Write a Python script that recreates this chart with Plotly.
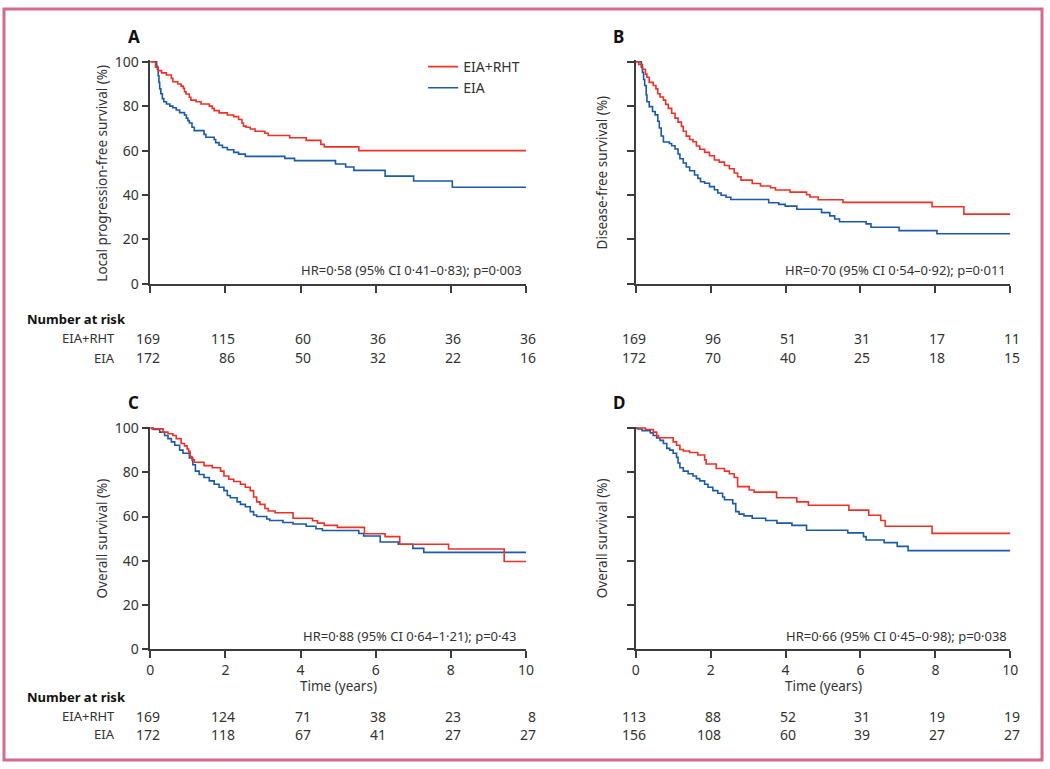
import plotly.graph_objects as go

# ---------------- DATA ----------------
# Panel A: Local progression-free survival
A_rht_t = [0, 0.14, 0.21, 0.30, 0.43, 0.56, 0.60, 0.73, 0.82, 0.88, 0.91, 0.95, 1.04, 1.08, 1.22, 1.35,
           1.57, 1.65, 1.70, 1.83, 2.05, 2.22, 2.35, 2.44, 2.48, 2.55, 2.66, 2.79, 3.05, 3.14, 3.71,
           4.15, 4.54, 4.63, 5.55, 10]
A_rht_s = [100, 97.5, 96.0, 95.0, 94.0, 92.5, 91.0, 90.0, 89.0, 88.0, 86.5, 85.5, 84.0, 82.7, 82.0, 81.0,
           80.0, 79.0, 78.0, 77.0, 76.0, 75.3, 74.0, 72.4, 71.0, 70.5, 69.7, 68.7, 67.8, 66.8, 65.8,
           64.6, 62.8, 61.7, 60.0, 60.0]
A_eia_t = [0, 0.17, 0.19, 0.21, 0.23, 0.25, 0.28, 0.32, 0.36, 0.43, 0.52, 0.60, 0.69, 0.78, 0.91, 0.96,
           1.00, 1.04, 1.11, 1.17, 1.43, 1.48, 1.70, 1.74, 1.83, 1.92, 2.05, 2.22, 2.35, 2.53, 3.58,
           3.84, 4.93, 5.20, 5.42, 6.25, 7.01, 8.04, 10]
A_eia_s = [100, 98.0, 96.6, 93.7, 90.7, 87.8, 85.6, 83.4, 82.0, 81.0, 80.0, 79.3, 78.3, 77.1, 76.0, 74.6,
           73.5, 72.4, 70.5, 69.0, 67.3, 66.0, 65.0, 63.6, 62.4, 61.4, 60.4, 59.2, 58.4, 57.4, 56.5,
           55.5, 54.0, 52.6, 51.1, 48.5, 46.3, 43.5, 43.5]

# Panel B: Disease-free survival
B_rht_t = [0, 0.08, 0.18, 0.26, 0.30, 0.36, 0.47, 0.54, 0.59, 0.65, 0.74, 0.80, 0.87, 0.96, 1.05, 1.13,
           1.22, 1.27, 1.35, 1.44, 1.53, 1.62, 1.71, 1.84, 1.97, 2.10, 2.23, 2.37, 2.50, 2.63, 2.72,
           2.81, 3.11, 3.33, 3.60, 3.73, 4.12, 4.56, 4.65, 4.87, 5.53, 7.91, 8.76, 10]
B_rht_s = [100, 98.8, 96.6, 94.4, 93.0, 90.7, 89.3, 87.8, 85.6, 84.1, 82.7, 80.8, 79.0, 76.8, 74.6, 72.8,
           70.9, 68.7, 66.5, 65.0, 64.0, 62.1, 60.6, 59.2, 57.7, 55.8, 54.8, 53.3, 51.8, 49.9, 48.2,
           46.7, 45.2, 44.1, 43.3, 42.3, 41.3, 40.1, 39.1, 37.9, 36.7, 34.7, 31.4, 31.4]
B_eia_t = [0, 0.15, 0.18, 0.21, 0.24, 0.28, 0.30, 0.36, 0.45, 0.52, 0.59, 0.63, 0.68, 0.74, 0.90, 0.96,
           1.05, 1.13, 1.18, 1.27, 1.35, 1.44, 1.57, 1.66, 1.73, 1.84, 1.97, 2.10, 2.19, 2.28, 2.41,
           2.54, 3.55, 3.82, 3.99, 4.30, 4.96, 5.18, 5.31, 5.44, 6.15, 6.28, 7.03, 8.04, 10]
B_eia_s = [100, 97.5, 95.2, 92.0, 89.3, 85.0, 82.0, 79.8, 77.6, 76.1, 73.2, 70.2, 66.6, 63.9, 63.2, 62.2,
           60.7, 58.5, 56.3, 54.4, 52.6, 50.9, 49.0, 47.5, 46.0, 45.3, 43.8, 42.4, 40.9, 39.9, 39.0,
           38.0, 36.5, 35.8, 35.0, 33.6, 32.1, 30.6, 29.2, 28.0, 27.0, 25.5, 24.0, 22.6, 22.6]

# Panel C: Overall survival
C_rht_t = [0, 0.05, 0.34, 0.47, 0.60, 0.69, 0.82, 0.91, 0.98, 1.02, 1.06, 1.11, 1.17, 1.43, 1.65, 1.87,
           1.96, 2.09, 2.22, 2.40, 2.53, 2.66, 2.75, 2.83, 2.92, 3.05, 3.14, 3.32, 3.80, 4.32, 4.45,
           4.63, 4.98, 5.70, 6.25, 6.64, 7.94, 9.42, 10]
C_rht_s = [100, 99.6, 98.1, 97.4, 96.6, 95.2, 93.0, 91.9, 90.5, 89.3, 87.1, 85.6, 84.5, 83.0, 82.0, 80.5,
           78.3, 76.8, 75.8, 74.6, 73.2, 71.7, 68.8, 66.6, 65.5, 63.6, 62.5, 61.7, 59.2, 58.1, 57.0,
           56.0, 55.1, 52.2, 50.9, 47.5, 45.3, 39.7, 39.7]
C_eia_t = [0, 0.08, 0.25, 0.38, 0.47, 0.56, 0.65, 0.78, 0.87, 1.04, 1.13, 1.20, 1.30, 1.43, 1.57, 1.70,
           1.83, 1.96, 2.05, 2.13, 2.31, 2.40, 2.53, 2.66, 2.75, 2.83, 3.10, 3.18, 3.53, 3.80, 4.15,
           4.41, 4.58, 5.55, 5.68, 6.12, 6.60, 6.99, 7.28, 10]
C_eia_s = [100, 99.3, 98.1, 96.6, 95.2, 93.7, 92.2, 90.0, 88.6, 86.4, 83.4, 80.5, 79.0, 77.6, 76.1, 74.6,
           73.2, 71.7, 69.5, 68.5, 66.6, 65.5, 64.4, 62.2, 60.7, 60.0, 58.9, 58.2, 57.3, 56.6, 55.6,
           54.5, 53.7, 52.3, 51.2, 48.5, 47.5, 45.6, 43.8, 43.8]

# Panel D: Overall survival (subgroup)
D_rht_t = [0, 0.26, 0.47, 0.56, 0.61, 1.00, 1.09, 1.18, 1.27, 1.44, 1.66, 1.84, 1.88, 2.15, 2.37, 2.50,
           2.63, 2.72, 3.03, 3.16, 3.76, 4.30, 4.61, 5.69, 6.22, 6.54, 6.66, 7.91, 10]
D_rht_s = [100, 99.3, 98.1, 96.6, 95.6, 93.7, 92.2, 90.3, 89.6, 88.9, 87.8, 85.6, 83.7, 81.7, 80.5, 79.3,
           77.6, 73.5, 72.0, 71.0, 68.5, 66.6, 65.1, 62.9, 60.6, 58.2, 55.6, 52.4, 52.4]
D_eia_t = [0, 0.05, 0.17, 0.39, 0.47, 0.56, 0.65, 0.74, 0.83, 0.91, 1.00, 1.09, 1.13, 1.18, 1.27, 1.40,
           1.53, 1.62, 1.71, 1.84, 1.93, 2.06, 2.19, 2.32, 2.37, 2.59, 2.67, 2.76, 2.89, 3.11, 3.47,
           3.77, 4.17, 4.56, 5.66, 6.08, 6.15, 6.63, 6.98, 7.27, 10]
D_eia_s = [100, 99.5, 98.8, 97.8, 96.6, 95.5, 94.4, 93.0, 90.8, 90.0, 88.6, 86.7, 84.2, 82.0, 80.5, 79.3,
           78.3, 77.1, 76.1, 74.6, 73.2, 71.7, 70.5, 68.8, 67.6, 65.8, 62.2, 61.1, 60.3, 59.2, 58.2,
           57.0, 56.0, 53.8, 52.6, 50.9, 49.4, 48.2, 46.5, 44.6, 44.6]

# Number at risk
risk_times = [0, 2, 4, 6, 8, 10]
A_risk_rht = [169, 115, 60, 36, 36, 36]
A_risk_eia = [172, 86, 50, 32, 22, 16]
B_risk_rht = [169, 96, 51, 31, 17, 11]
B_risk_eia = [172, 70, 40, 25, 18, 15]
C_risk_rht = [169, 124, 71, 38, 23, 8]
C_risk_eia = [172, 118, 67, 41, 27, 27]
D_risk_rht = [113, 88, 52, 31, 19, 19]
D_risk_eia = [156, 108, 60, 39, 27, 27]

series_names = ["EIA+RHT", "EIA"]
panel_letters = ["A", "B", "C", "D"]
y_titles = ["Local progression-free survival (%)", "Disease-free survival (%)",
            "Overall survival (%)", "Overall survival (%)"]
hr_texts = ["HR=0·58 (95% CI 0·41–0·83); p=0·003",
            "HR=0·70 (95% CI 0·54–0·92); p=0·011",
            "HR=0·88 (95% CI 0·64–1·21); p=0·43",
            "HR=0·66 (95% CI 0·45–0·98); p=0·038"]
x_ticks = [0, 2, 4, 6, 8, 10]
y_ticks = [0, 20, 40, 60, 80, 100]

# ---------------- LAYOUT HELPERS ----------------
W, H = 1050, 769
RED = "#ee3026"
BLUE = "#1a5aa6"
AX = "#3c3c3c"
TXT = "#333333"
FONT = "Noto Sans"


def px_x(p):
    return p / W


def px_y(p):
    return 1 - p / H


# pixel geometry of the 4 panels: (x0, x10, y0(value 0), y100)
geom = [
    (148, 528, 281.5, 54),
    (639, 1018, 281.5, 54),
    (148, 528, 655.7, 429),
    (639, 1018, 655.7, 429),
]
YMAX = 100.6

fig = go.Figure()

curves = [
    (A_rht_t, A_rht_s, A_eia_t, A_eia_s),
    (B_rht_t, B_rht_s, B_eia_t, B_eia_s),
    (C_rht_t, C_rht_s, C_eia_t, C_eia_s),
    (D_rht_t, D_rht_s, D_eia_t, D_eia_s),
]
risks = [(A_risk_rht, A_risk_eia), (B_risk_rht, B_risk_eia),
         (C_risk_rht, C_risk_eia), (D_risk_rht, D_risk_eia)]

annotations = []
layout_axes = {}

for i, (g, cv) in enumerate(zip(geom, curves)):
    n = "" if i == 0 else str(i + 1)
    xa, ya = "x" + n, "y" + n
    x0, x10, y0, y100 = g
    per = (y0 - y100) / 100.0
    ytop = y0 - per * YMAX
    layout_axes["xaxis" + n] = dict(
        domain=[px_x(x0), px_x(x10)], anchor=ya, range=[0, 10],
        tickvals=x_ticks, showticklabels=(i >= 2), ticks="outside", ticklen=7,
        tickwidth=1.5, tickcolor=AX, showline=True, linecolor=AX, linewidth=1.5,
        showgrid=False, zeroline=False, fixedrange=True,
        tickfont=dict(family=FONT, size=14, color=TXT),
    )
    layout_axes["yaxis" + n] = dict(
        domain=[px_y(y0), px_y(ytop)], anchor=xa, range=[0, YMAX],
        tickvals=y_ticks, showticklabels=(i in (0, 2)), ticks="outside", ticklen=7,
        tickwidth=1.5, tickcolor=AX, showline=True, linecolor=AX, linewidth=1.5,
        showgrid=False, zeroline=False, fixedrange=True,
        tickfont=dict(family=FONT, size=14, color=TXT),
    )
    rt, rs, et, es = cv
    # EIA drawn first, EIA+RHT on top
    fig.add_trace(go.Scatter(x=et, y=es, mode="lines", line=dict(color=BLUE, width=1.6, shape="hv"),
                             name=series_names[1], showlegend=False, xaxis=xa, yaxis=ya))
    fig.add_trace(go.Scatter(x=rt, y=rs, mode="lines", line=dict(color=RED, width=1.6, shape="hv"),
                             name=series_names[0], showlegend=False, xaxis=xa, yaxis=ya))

    # panel letter
    annotations.append(dict(text="<b>%s</b>" % panel_letters[i], xref="paper", yref="paper",
                            x=px_x(x0 - 17), y=px_y(y100 - 26), xanchor="center", yanchor="middle",
                            showarrow=False, font=dict(family=FONT, size=17, color="#111111")))
    # y-axis title
    ytx = 99 if i in (0, 2) else 604.5
    annotations.append(dict(text=y_titles[i], xref="paper", yref="paper", textangle=-90,
                            x=px_x(ytx), y=px_y((y0 + y100) / 2), xanchor="center", yanchor="middle",
                            showarrow=False, font=dict(family=FONT, size=13.5, color=TXT)))
    # HR text
    hr_right = [526, 1016, 520, 1017][i]
    annotations.append(dict(text=hr_texts[i], xref="paper", yref="paper",
                            x=px_x(hr_right), y=px_y(y0 - 14), xanchor="right", yanchor="middle",
                            showarrow=False, font=dict(family=FONT, size=13, color=TXT)))
    # x-axis title
    if i >= 2:
        annotations.append(dict(text="Time (years)", xref="paper", yref="paper",
                                x=px_x((x0 + x10) / 2), y=px_y(y0 + 38), xanchor="center",
                                yanchor="middle", showarrow=False, borderpad=0,
                                font=dict(family=FONT, size=13.5, color=TXT)))
    # Number at risk rows
    row_y = (337, 357) if i < 2 else (724.3, 742.7)
    for vals, ry in zip(risks[i], row_y):
        for t, v in zip(risk_times, vals):
            annotations.append(dict(text=str(v), xref=xa, yref="paper", x=t, y=px_y(ry),
                                    xanchor="right", yanchor="middle", xshift=11, showarrow=False,
                                    borderpad=0, font=dict(family=FONT, size=14, color=TXT)))

# Number-at-risk headers
for hy, r1, r2 in [(317, 337, 357), (705, 724.3, 742.7)]:
    annotations.append(dict(text="<b>Number at risk</b>", xref="paper", yref="paper",
                            x=px_x(22), y=px_y(hy), xanchor="left", yanchor="middle",
                            showarrow=False, borderpad=0,
                            font=dict(family=FONT, size=13, color="#111111")))
    for name, ry in zip(series_names, (r1, r2)):
        annotations.append(dict(text=name, xref="paper", yref="paper",
                                x=px_x(113), y=px_y(ry), xanchor="right", yanchor="middle",
                                showarrow=False, borderpad=0,
                                font=dict(family=FONT, size=13, color=TXT)))

# legend entries (panel A styling)
fig.add_trace(go.Scatter(x=[None], y=[None], mode="lines", line=dict(color=RED, width=1.6),
                         name=series_names[0], showlegend=True))
fig.add_trace(go.Scatter(x=[None], y=[None], mode="lines", line=dict(color=BLUE, width=1.6),
                         name=series_names[1], showlegend=True))

fig.update_layout(
    width=W, height=H,
    margin=dict(l=0, r=0, t=0, b=0),
    paper_bgcolor="white", plot_bgcolor="white",
    font=dict(family=FONT, size=13, color=TXT),
    annotations=annotations,
    legend=dict(x=px_x(424), y=px_y(43), xanchor="left", yanchor="top",
                bgcolor="rgba(0,0,0,0)", font=dict(family=FONT, size=14, color=TXT),
                tracegroupgap=0, itemwidth=30),
    shapes=[dict(type="rect", xref="paper", yref="paper", x0=0, y0=0, x1=1, y1=1,
                 line=dict(color="#d66a8e", width=3), fillcolor="rgba(0,0,0,0)")],
    **layout_axes,
)

fig.write_html("out.html", config={"displayModeBar": False},
               post_script="document.body.style.margin='0';document.body.style.overflow='hidden';")
